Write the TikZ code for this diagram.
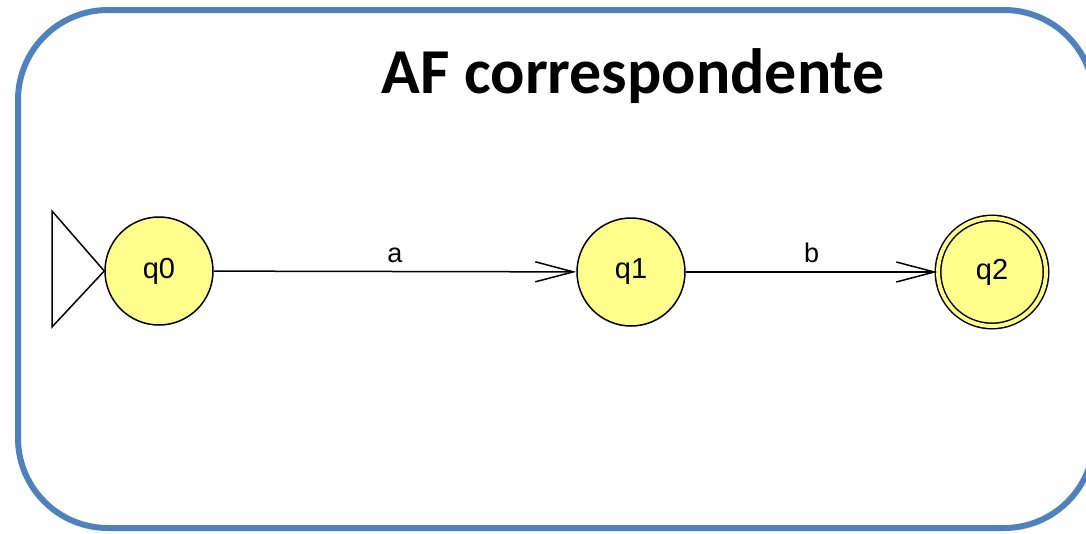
\documentclass[tikz,border=0pt]{standalone}
\usepackage{fontspec}
\setmainfont{Liberation Sans}
\newfontfamily\titlefont{Carlito}
\usetikzlibrary{arrows.meta}
\definecolor{boxblue}{HTML}{4F81BD}
\definecolor{stateyellow}{RGB}{255,255,140}
\begin{document}
\begin{tikzpicture}[x=1pt,y=-1pt,
  state/.style={circle,draw=black,line width=1.5pt,fill=stateyellow,minimum size=108pt,inner sep=0pt,font=\fontsize{29}{29}\selectfont},
  trans/.style={draw=black,line width=1.5pt,-{Straight Barb[length=38pt,width=20pt,line width=1.5pt]}},
  lbl/.style={font=\fontsize{27}{27}\selectfont}]
\useasboundingbox (0,0) rectangle (1086,533);
\begin{scope}
\clip (0,0) rectangle (1086,533);
\draw[boxblue,line width=6pt,rounded corners=90pt] (18,10) rectangle (1094,528);
\end{scope}
\node[font=\titlefont\bfseries\fontsize{64}{64}\selectfont] (title) at (633,76) {AF correspondente};
\node[state] (q0) at (159,271) {q0};
\node[state] (q1) at (631,272) {q1};
\node[state,double=stateyellow,double distance=4pt] (q2) at (992,272) {q2};
\coordinate (t1) at (52,211);
\coordinate (t2) at (52,327);
\draw[black,line width=1.5pt] (t1) -- (q0.west) -- (t2) -- cycle;
\draw[trans] (q0) -- node[lbl,above=5pt] {a} (q1);
\draw[trans] (q1) -- node[lbl,above=5pt] {b} (q2);
\end{tikzpicture}
\end{document}
